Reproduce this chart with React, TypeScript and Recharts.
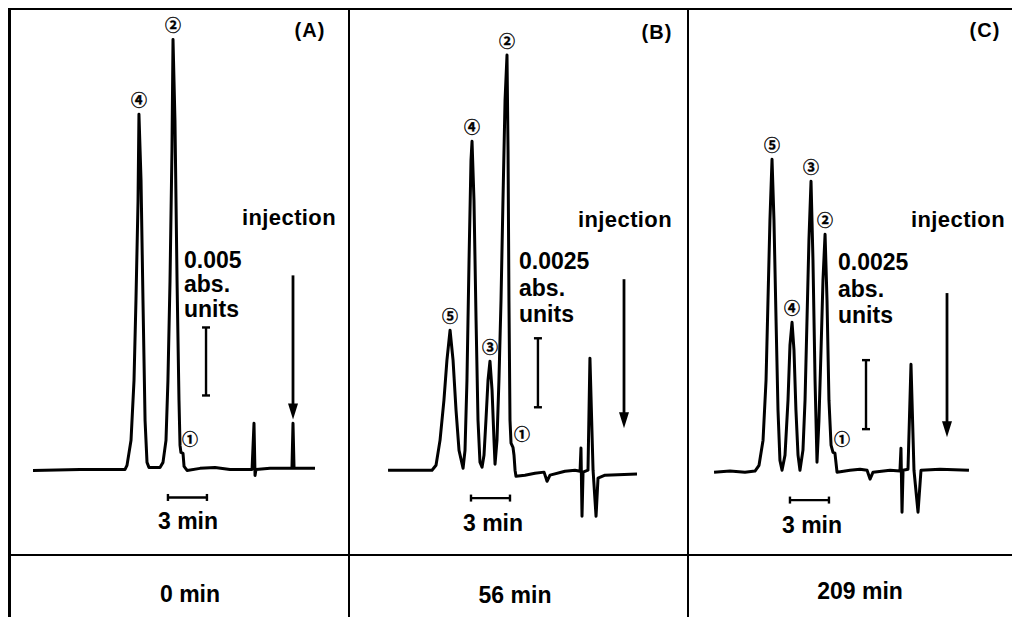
import React from 'react'
import { LineChart, Line, XAxis, YAxis, ReferenceLine, ReferenceDot } from 'recharts'

// time = minutes before injection (trace runs right to left), absorbance in mAU
const timeA = [20.0, 16.38, 12.92, 12.77, 12.46, 12.23, 12.08, 11.92, 11.85, 11.69, 11.54, 11.38, 11.23, 11.08,
  10.23, 10.0, 9.77, 9.62, 9.46, 9.31, 9.23, 9.08, 8.92, 8.77, 8.69, 8.62, 8.46, 8.38, 8.15,
  7.15, 6.0, 4.85, 3.15, 3.0, 2.92, 2.85, 1.77, 0.08, 0.0, -0.08, -1.69]
const absA = [0, 0.07, 0.07, 0.37, 2.21, 6.62, 12.5, 19.85, 26.18, 21.32, 12.5, 3.68, 0.59, 0.22,
  0.22, 0.59, 2.21, 6.62, 13.97, 23.53, 31.69, 25.74, 13.97, 5.15, 1.84, 1.32, 1.25, 0.29, 0,
  0.15, 0.22, 0.07, 0.07, 3.46, -0.37, 0.07, 0.15, 0.15, 3.46, 0.15, 0.15]

const timeB = [18.15, 14.77, 14.46, 14.15, 13.85, 13.62, 13.38, 13.15, 12.92, 12.69, 12.38,
  12.23, 12.08, 11.92, 11.77, 11.69, 11.54, 11.38, 11.23, 11.08, 10.92,
  10.77, 10.62, 10.46, 10.31, 10.15, 10.0, 9.92,
  9.77, 9.62, 9.46, 9.31, 9.15, 9.0, 8.92, 8.85, 8.77, 8.69, 8.54, 8.46, 8.38, 8.31,
  7.62, 6.85, 6.15, 5.92, 5.69, 4.54, 3.77, 3.38, 3.31, 3.23, 3.15,
  2.77, 2.62, 2.38, 2.15, 2.0, 1.46, -1.0]
const absB = [0, 0, 0.18, 1.09, 2.54, 3.99, 5.07, 3.99, 2.17, 0.72, 0.07,
  0.72, 3.26, 7.61, 11.23, 11.92, 9.78, 5.43, 1.81, 0.29, 0.11,
  0.54, 1.81, 3.26, 3.95, 2.9, 1.09, 0.22,
  1.09, 3.26, 6.16, 9.78, 13.41, 15.04, 11.59, 6.16, 1.81, 0.98, 0.83, 0.54, 0, -0.22,
  -0.18, -0.11, -0.07, -0.4, -0.18, -0.04, 0, -0.04, 0.8, -1.67, -0.07,
  0, 4.06, 0, -1.67, -0.29, -0.18, -0.14]

const timeC = [17.92, 16.69, 15.54, 14.77, 14.46, 14.15, 13.92, 13.77, 13.62, 13.46, 13.31, 13.15, 13.0, 12.85, 12.69,
  12.46, 12.23, 12.08, 11.92, 11.77, 11.62, 11.46, 11.31,
  11.08, 10.92, 10.77, 10.62, 10.46, 10.31, 10.15, 10.0,
  9.85, 9.69, 9.54, 9.38, 9.23, 9.08, 8.92, 8.77, 8.62, 8.46,
  7.46, 6.69, 6.15, 5.92, 5.69, 4.38, 3.62, 3.54, 3.46, 3.38, 3.0, 2.77, 2.54, 2.23, 2.0, 0.54, -1.69]
const absC = [0, 0.04, 0, 0.04, 0.25, 1.16, 3.33, 6.23, 9.13, 11.34, 9.13, 5.51, 2.25, 0.43, 0.07,
  0.62, 2.61, 4.6, 5.43, 4.42, 2.25, 0.62, 0.07,
  0.8, 2.61, 5.51, 8.41, 10.54, 7.68, 3.33, 0.36,
  1.88, 4.42, 6.96, 8.62, 6.23, 2.61, 0.98, 0.72, 0.69, 0,
  0.07, 0.11, 0.07, -0.25, 0, 0.07, 0.04, 0.87, -1.45, 0.07, 0.11, 3.91, 0.07, -1.45, 0.07, 0.11, 0.07]

const peakNamesA = ['④', '②']
const peakTimesA = [11.85, 9.23]
const peakNamesB = ['⑤', '④', '③', '②']
const peakTimesB = [13.38, 11.69, 10.31, 9.0]
const peakNamesC = ['⑤', '④', '③', '②']
const peakTimesC = [13.46, 11.92, 10.46, 9.38]
const shoulderTimes = [8.62, 8.54, 8.77]

const panelTitles = ['(A)', '(B)', '(C)']
const sampleTimes = ['0 min', '56 min', '209 min']
const absScales = ['0.005', '0.0025', '0.0025']

const PX_PER_MIN = 13
const T_DOMAIN: [number, number] = [-4, 22]
const FONT = '"Liberation Sans", Arial, Helvetica, sans-serif'
const CIRCLE_FONT = '"Noto Sans CJK JP", "Noto Sans CJK SC", sans-serif'

type PanelProps = {
  time: number[]
  abs: number[]
  peakNames: string[]
  peakTimes: number[]
  shoulderT: number
  injX: number
  baseY: number
  pxPerUnit: number
  yDomain: [number, number]
  absBar: { t: number; from: number; span: number }
  timeBar: { from: number; y: number }
  arrow: { top: number; tip: number }
}

function labelShape(text: string, dx: number, dy: number, anchor: string) {
  return (p: any) => (
    <text
      x={p.cx + dx}
      y={p.cy + dy}
      textAnchor={anchor}
      dominantBaseline="central"
      fontFamily={CIRCLE_FONT}
      fontWeight="bold"
      fontSize={16}
      fill="#000"
      stroke="#000"
      strokeWidth={0.35}
    >
      {text}
    </text>
  )
}

function Chromatogram(props: PanelProps) {
  const { time, abs, peakNames, peakTimes, shoulderT, injX, baseY, pxPerUnit, yDomain, absBar, timeBar, arrow } = props
  const data = time.map((t, i) => ({ t, a: abs[i] }))
  const width = (T_DOMAIN[1] - T_DOMAIN[0]) * PX_PER_MIN
  const height = (yDomain[1] - yDomain[0]) * pxPerUnit
  const left = injX - T_DOMAIN[1] * PX_PER_MIN
  const top = baseY - yDomain[1] * pxPerUnit
  const capT = 4 / PX_PER_MIN
  const capY = 3.5 / pxPerUnit
  const headLen = 15 / pxPerUnit
  const shoulderA = abs[time.indexOf(shoulderT)]
  const seg = { stroke: '#000', strokeWidth: 2.4, ifOverflow: 'visible' as const }

  return (
    <div style={{ position: 'absolute', left, top }}>
      <LineChart width={width} height={height} data={data} margin={{ top: 0, right: 0, bottom: 0, left: 0 }}>
        <XAxis type="number" dataKey="t" domain={T_DOMAIN} reversed hide allowDataOverflow />
        <YAxis type="number" domain={yDomain} hide width={0} allowDataOverflow />
        <Line
          dataKey="a"
          type="linear"
          stroke="#000"
          strokeWidth={3}
          strokeLinejoin="round"
          dot={false}
          isAnimationActive={false}
        />
        {/* absorbance scale bar */}
        <ReferenceLine {...seg} segment={[{ x: absBar.t, y: absBar.from }, { x: absBar.t, y: absBar.from + absBar.span }]} />
        <ReferenceLine {...seg} segment={[{ x: absBar.t + capT, y: absBar.from }, { x: absBar.t - capT, y: absBar.from }]} />
        <ReferenceLine {...seg} segment={[{ x: absBar.t + capT, y: absBar.from + absBar.span }, { x: absBar.t - capT, y: absBar.from + absBar.span }]} />
        {/* 3 min bar */}
        <ReferenceLine {...seg} segment={[{ x: timeBar.from, y: timeBar.y }, { x: timeBar.from - 3, y: timeBar.y }]} />
        <ReferenceLine {...seg} segment={[{ x: timeBar.from, y: timeBar.y - capY }, { x: timeBar.from, y: timeBar.y + capY }]} />
        <ReferenceLine {...seg} segment={[{ x: timeBar.from - 3, y: timeBar.y - capY }, { x: timeBar.from - 3, y: timeBar.y + capY }]} />
        {/* injection arrow */}
        <ReferenceLine stroke="#000" strokeWidth={2.8} ifOverflow="visible" segment={[{ x: 0, y: arrow.top }, { x: 0, y: arrow.tip + headLen * 0.6 }]} />
        <ReferenceDot
          x={0}
          y={arrow.tip}
          r={1}
          ifOverflow="visible"
          shape={(p: any) => (
            <polygon points={`${p.cx - 5},${p.cy - 16} ${p.cx + 5},${p.cy - 16} ${p.cx},${p.cy}`} fill="#000" />
          )}
        />
        {peakNames.map((name, i) => {
          const t = peakTimes[i]
          const a = abs[time.indexOf(t)]
          return <ReferenceDot key={name} x={t} y={a} r={1} ifOverflow="visible" shape={labelShape(name, 0, -15, 'middle')} />
        })}
        <ReferenceDot x={shoulderT} y={shoulderA} r={1} ifOverflow="visible" shape={labelShape('①', 1, -14, 'start')} />
      </LineChart>
    </div>
  )
}

function Txt({ x, y, children, size = 23, align = 'left', spacing = 0 }: { x: number; y: number; children: React.ReactNode; size?: number; align?: 'left' | 'center'; spacing?: number }) {
  return (
    <div
      style={{
        position: 'absolute',
        left: x,
        top: y,
        transform: align === 'center' ? 'translate(-50%, -50%)' : 'translateY(-50%)',
        fontFamily: FONT,
        fontWeight: 'bold',
        fontSize: size,
        letterSpacing: spacing,
        lineHeight: 1,
        color: '#000',
        whiteSpace: 'nowrap',
      }}
    >
      {children}
    </div>
  )
}

const line = (style: React.CSSProperties) => <div style={{ position: 'absolute', background: '#000', ...style }} />

export default function App() {
  return (
    <div style={{ position: 'absolute', left: 0, top: 0, width: 1012, height: 617, background: '#fff', overflow: 'hidden' }}>
      {/* frame */}
      {line({ left: 8, top: 8, width: 1004, height: 2 })}
      {line({ left: 8, top: 8, width: 3, height: 609 })}
      {line({ left: 348, top: 8, width: 2, height: 609 })}
      {line({ left: 687, top: 8, width: 2, height: 609 })}
      {line({ left: 8, top: 554, width: 1004, height: 2 })}

      <Chromatogram
        time={timeA}
        abs={absA}
        peakNames={peakNamesA}
        peakTimes={peakTimesA}
        shoulderT={shoulderTimes[0]}
        injX={293}
        baseY={470}
        pxPerUnit={13.6}
        yDomain={[-6, 34]}
        absBar={{ t: 6.69, from: 5.51, span: 5 }}
        timeBar={{ from: 9.62, y: -1.99 }}
        arrow={{ top: 14.34, tip: 3.75 }}
      />
      <Chromatogram
        time={timeB}
        abs={absB}
        peakNames={peakNamesB}
        peakTimes={peakTimesB}
        shoulderT={shoulderTimes[1]}
        injX={624}
        baseY={470}
        pxPerUnit={27.6}
        yDomain={[-3, 17]}
        absBar={{ t: 6.62, from: 2.28, span: 2.5 }}
        timeBar={{ from: 11.77, y: -1.01 }}
        arrow={{ top: 6.92, tip: 1.52 }}
      />
      <Chromatogram
        time={timeC}
        abs={absC}
        peakNames={peakNamesC}
        peakTimes={peakTimesC}
        shoulderT={shoulderTimes[2]}
        injX={947}
        baseY={472}
        pxPerUnit={27.6}
        yDomain={[-3, 17]}
        absBar={{ t: 6.23, from: 1.56, span: 2.5 }}
        timeBar={{ from: 12.08, y: -1.01 }}
        arrow={{ top: 6.49, tip: 1.27 }}
      />

      {/* panel A texts */}
      <Txt x={310} y={30} size={20} spacing={1} align="center">{panelTitles[0]}</Txt>
      <Txt x={242} y={218} size={22} spacing={0.4}>injection</Txt>
      <Txt x={184} y={260}>{absScales[0]}</Txt>
      <Txt x={184} y={284}>abs.</Txt>
      <Txt x={184} y={309}>units</Txt>
      <Txt x={188} y={521} align="center">3 min</Txt>
      <Txt x={190} y={594} align="center">{sampleTimes[0]}</Txt>

      {/* panel B texts */}
      <Txt x={657} y={32} size={20} spacing={1} align="center">{panelTitles[1]}</Txt>
      <Txt x={578} y={220} size={22} spacing={0.4}>injection</Txt>
      <Txt x={519} y={261}>{absScales[1]}</Txt>
      <Txt x={519} y={288}>abs.</Txt>
      <Txt x={519} y={314}>units</Txt>
      <Txt x={493} y={523} align="center">3 min</Txt>
      <Txt x={515} y={595} align="center">{sampleTimes[1]}</Txt>

      {/* panel C texts */}
      <Txt x={985} y={30} size={20} spacing={1} align="center">{panelTitles[2]}</Txt>
      <Txt x={911} y={220} size={22} spacing={0.4}>injection</Txt>
      <Txt x={838} y={262}>{absScales[2]}</Txt>
      <Txt x={838} y={289}>abs.</Txt>
      <Txt x={838} y={315}>units</Txt>
      <Txt x={812} y={525} align="center">3 min</Txt>
      <Txt x={860} y={591} align="center">{sampleTimes[2]}</Txt>
    </div>
  )
}
